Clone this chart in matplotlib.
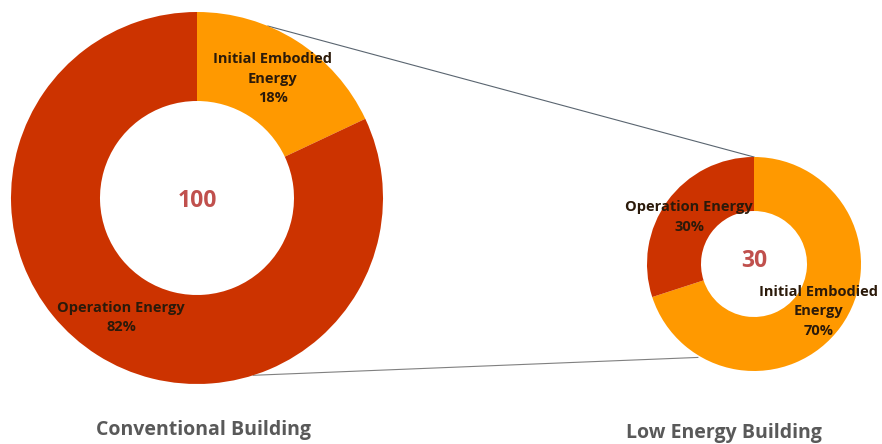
import math
import matplotlib.pyplot as plt

# Data
parts = ["Initial Embodied\nEnergy", "Operation Energy"]
conventional = [18, 82]
low_energy = [70, 30]
totals = [100, 30]
titles = ["Conventional Building", "Low Energy Building"]

orange = "#FF9900"
red = "#CC3300"
colors = [orange, red]

plt.rcParams['font.family'] = ['Open Sans', 'DejaVu Sans']

fig = plt.figure(figsize=(8.82, 4.44), dpi=100)
ax = fig.add_axes([0, 0, 1, 1])

# donut geometry in pixel-like coordinates (y up)
big_c, big_r, big_w = (197, 246), 186, 89
small_c, small_r, small_w = (754, 180), 107, 54


def donut(values, center, radius, width, total, labels, dy):
    wedges, _ = ax.pie(values, colors=colors, startangle=90, counterclock=False,
                       center=center, radius=radius,
                       wedgeprops=dict(width=width, linewidth=0))
    rmid = radius - width / 2
    for w, v, lab in zip(wedges, values, labels):
        ang = math.radians((w.theta1 + w.theta2) / 2)
        x = center[0] + rmid * math.cos(ang)
        y = center[1] + rmid * math.sin(ang)
        ax.text(x, y, f"{lab}\n{v}%", ha='center', va='center',
                fontsize=10.5, fontweight='bold', color='#2b1a0a', linespacing=1.5)
    ax.text(center[0], center[1] + dy, str(total), ha='center', va='center',
            fontsize=16.5, fontweight='bold', color='#C0504D')


# connecting lines (behind the donuts)
def on_circle(center, r, deg_from_top):
    a = math.radians(90 - deg_from_top)
    return center[0] + r * math.cos(a), center[1] + r * math.sin(a)


p1 = on_circle(big_c, big_r, 22.4)
q1 = on_circle(small_c, small_r, 0)
p2 = on_circle(big_c, big_r, 162.4)
q2 = on_circle(small_c, small_r + 2, 211)
ax.plot([p1[0], q1[0]], [p1[1], q1[1]], color='#5a6570', lw=0.8, zorder=0)
ax.plot([p2[0], q2[0]], [p2[1], q2[1]], color='#808080', lw=0.8, zorder=0)

donut(conventional, big_c, big_r, big_w, totals[0], parts, -3)
donut(low_energy, small_c, small_r, small_w, totals[1], parts, 3)

ax.text(204, 14, titles[0], ha='center', va='center', fontsize=14,
        fontweight='bold', color='#595959')
ax.text(724, 11, titles[1], ha='center', va='center', fontsize=14,
        fontweight='bold', color='#595959')

ax.set_xlim(0, 882)
ax.set_ylim(0, 444)
ax.set_aspect('equal')
ax.axis('off')

fig.savefig("out.png", dpi=100)
